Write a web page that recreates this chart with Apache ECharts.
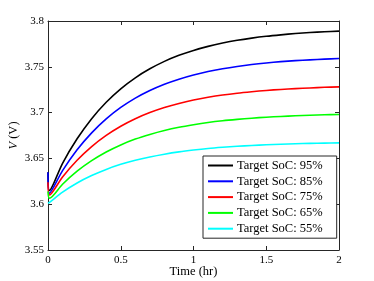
<!DOCTYPE html>
<html><head><meta charset="utf-8">
<script src="https://cdn.jsdelivr.net/npm/echarts@6/dist/echarts.min.js"></script>
<style>html,body{margin:0;padding:0;background:#fff}#c{width:374px;height:281px}</style>
</head><body><div id="c"></div>
<script>
var times = [0, 0.01, 0.1, 0.2, 0.3, 0.4, 0.5, 0.6, 0.7, 0.8, 0.9, 1.0, 1.1, 1.2, 1.3, 1.4, 1.5, 1.6, 1.7, 1.8, 1.9, 2.0];
var soc95 = [3.635, 3.6150, 3.6447, 3.6714, 3.6934, 3.7113, 3.7260, 3.7380, 3.7478, 3.7559, 3.7625, 3.7679, 3.7723, 3.7759, 3.7789, 3.7813, 3.7833, 3.7849, 3.7863, 3.7874, 3.7883, 3.7890];
var soc85 = [3.635, 3.6120, 3.6367, 3.6594, 3.6779, 3.6931, 3.7056, 3.7158, 3.7241, 3.7310, 3.7365, 3.7411, 3.7449, 3.7479, 3.7504, 3.7525, 3.7542, 3.7556, 3.7567, 3.7576, 3.7584, 3.7590];
var soc75 = [3.624, 3.6100, 3.6298, 3.6480, 3.6629, 3.6751, 3.6851, 3.6933, 3.7000, 3.7055, 3.7100, 3.7137, 3.7167, 3.7192, 3.7212, 3.7228, 3.7242, 3.7253, 3.7262, 3.7269, 3.7276, 3.7281];
var soc65 = [3.614, 3.6065, 3.6218, 3.6360, 3.6475, 3.6570, 3.6647, 3.6711, 3.6762, 3.6805, 3.6840, 3.6868, 3.6892, 3.6911, 3.6926, 3.6939, 3.6950, 3.6958, 3.6965, 3.6971, 3.6976, 3.6980];
var soc55 = [3.601, 3.6020, 3.6132, 3.6232, 3.6313, 3.6380, 3.6435, 3.6480, 3.6516, 3.6546, 3.6571, 3.6591, 3.6608, 3.6621, 3.6632, 3.6641, 3.6649, 3.6655, 3.6660, 3.6664, 3.6667, 3.6670];
var seriesNames = ['Target SoC: 95%', 'Target SoC: 85%', 'Target SoC: 75%', 'Target SoC: 65%', 'Target SoC: 55%'];
var seriesColors = ['#000000', '#0000ff', '#ff0000', '#00ff00', '#00ffff'];
var seriesValues = [soc95, soc85, soc75, soc65, soc55];

var font = 'Liberation Serif, DejaVu Serif, serif';
var axisCol = '#262626';
function pairs(v){ return times.map(function(t,i){ return [t, v[i]]; }); }
var series = seriesValues.map(function(v, k){
  return { name: seriesNames[k], type: 'line', data: pairs(v), symbol: 'none', showSymbol: false, smooth: 0.3,
    lineStyle: { color: seriesColors[k], width: 1.6 }, itemStyle: { color: seriesColors[k] }, z: 2 + k };
});
var chart = echarts.init(document.getElementById('c'), null, { renderer: 'canvas' });
chart.setOption({
  animation: false,
  backgroundColor: '#fff',
  grid: { left: 48, right: 35, top: 21, bottom: 31, containLabel: false, outerBoundsMode: 'none' },
  legend: {
    orient: 'vertical', left: 203, top: 156,
    data: seriesNames,
    icon: 'rect',
    itemWidth: 25, itemHeight: 2, itemGap: 2.8,
    backgroundColor: '#fff', borderColor: axisCol, borderWidth: 1, borderRadius: 0,
    padding: [3, 14, 3, 5],
    textStyle: { fontFamily: font, fontSize: 12.5, color: '#000', padding: [0, 0, 0, -1] }
  },
  xAxis: [{
    type: 'value', min: 0, max: 2, interval: 0.5,
    name: 'Time (hr)', nameLocation: 'middle', nameGap: 15.5, nameMoveOverlap: false,
    nameTextStyle: { fontFamily: font, fontSize: 12.5, color: '#000' },
    axisLine: { show: true, onZero: false, lineStyle: { color: axisCol, width: 1 } },
    axisTick: { show: true, inside: true, length: 4, lineStyle: { color: axisCol } },
    axisLabel: { fontFamily: font, fontSize: 11, color: '#000', margin: 5 },
    splitLine: { show: false }
  }, {
    type: 'value', min: 0, max: 2, interval: 0.5, position: 'top',
    axisLine: { show: true, onZero: false, lineStyle: { color: axisCol, width: 1 } },
    axisTick: { show: true, inside: true, length: 4, lineStyle: { color: axisCol } },
    axisLabel: { show: false }, splitLine: { show: false }
  }],
  yAxis: [{
    type: 'value', min: 3.55, max: 3.8, interval: 0.05,
    name: '{i|V} (V)', nameLocation: 'middle', nameGap: 28, nameMoveOverlap: false,
    nameTextStyle: { fontFamily: font, fontSize: 12.5, color: '#000',
      rich: { i: { fontFamily: font, fontSize: 12.5, fontStyle: 'italic', color: '#000' } } },
    axisLine: { show: true, onZero: false, lineStyle: { color: axisCol, width: 1 } },
    axisTick: { show: true, inside: true, length: 4, lineStyle: { color: axisCol } },
    axisLabel: { fontFamily: font, fontSize: 11, color: '#000', margin: 4 },
    splitLine: { show: false }
  }, {
    type: 'value', min: 3.55, max: 3.8, interval: 0.05, position: 'right',
    axisLine: { show: true, onZero: false, lineStyle: { color: axisCol, width: 1 } },
    axisTick: { show: true, inside: true, length: 4, lineStyle: { color: axisCol } },
    axisLabel: { show: false }, splitLine: { show: false }
  }],
  series: series
});
</script></body></html>
